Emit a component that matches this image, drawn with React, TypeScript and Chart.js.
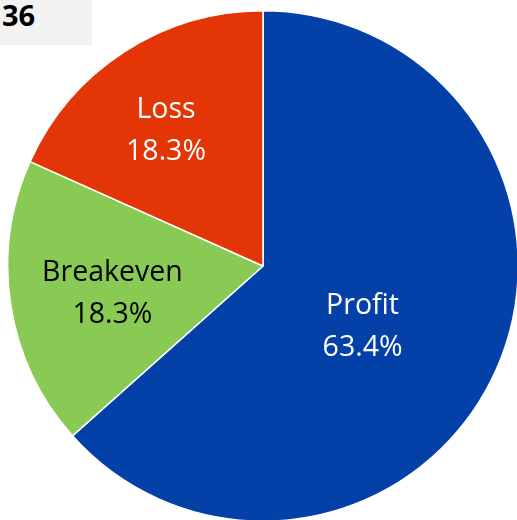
import React, { useEffect, useRef } from "react";
import { Chart, registerables } from "chart.js";

Chart.register(...registerables);

const categories = ["Profit", "Breakeven", "Loss"];
const counts = [52, 15, 15];
const percentLabels = ["63.4%", "18.3%", "18.3%"];
const sliceColors = ["#0340A7", "#88CA53", "#E33505"];
const labelColors = ["#FFFFFF", "#000000", "#FFFFFF"];
const titleText = "36";

// label anchor as fraction of radius (x, y) relative to pie centre
const labelAnchors: [number, number][] = [
  [0.39, 0.24],
  [-0.59, 0.11],
  [-0.38, -0.53],
];

const labelPlugin = {
  id: "sliceLabels",
  afterDatasetsDraw(chart: any) {
    const ctx = chart.ctx;
    const meta = chart.getDatasetMeta(0);
    ctx.save();
    ctx.font = '28.5px "Open Sans", sans-serif';
    ctx.textAlign = "center";
    ctx.textBaseline = "middle";
    meta.data.forEach((arc: any, i: number) => {
      const r = arc.outerRadius;
      const x = arc.x + labelAnchors[i][0] * r;
      const y = arc.y + labelAnchors[i][1] * r;
      ctx.fillStyle = labelColors[i];
      ctx.fillText(categories[i], x, y - 21);
      ctx.fillText(percentLabels[i], x, y + 21);
    });
    ctx.restore();
  },
};

export default function App() {
  const ref = useRef<HTMLCanvasElement | null>(null);
  useEffect(() => {
    if (!ref.current) return;
    const chart = new Chart(ref.current, {
      type: "pie",
      data: {
        labels: categories,
        datasets: [
          {
            data: counts,
            backgroundColor: sliceColors,
            borderColor: "#FFFFFF",
            borderWidth: 1.5,
          },
        ],
      },
      options: {
        animation: false,
        responsive: false,
        maintainAspectRatio: false,
        layout: { padding: { left: 7, top: 9, right: 11, bottom: 0 } },
        plugins: {
          legend: { display: false },
          tooltip: { enabled: false },
          title: { display: false },
        },
      },
      plugins: [labelPlugin],
    });
    return () => chart.destroy();
  }, []);

  return (
    <div
      style={{
        position: "fixed",
        left: 0,
        top: 0,
        width: 517,
        height: 520,
        overflow: "hidden",
        background: "#fff",
      }}
    >
      <canvas
        ref={ref}
        width={530}
        height={523}
        style={{ position: "absolute", left: 0, top: 0, width: 530, height: 523 }}
      />
      <div
        style={{
          position: "absolute",
          left: 0,
          top: 0,
          width: 92,
          height: 45,
          background: "#F2F2F2",
          fontFamily: '"Open Sans", sans-serif',
          fontWeight: 700,
          fontSize: 29,
          lineHeight: "30px",
          paddingLeft: 2,
          boxSizing: "border-box",
          color: "#000",
        }}
      >
        {titleText}
      </div>
    </div>
  );
}
